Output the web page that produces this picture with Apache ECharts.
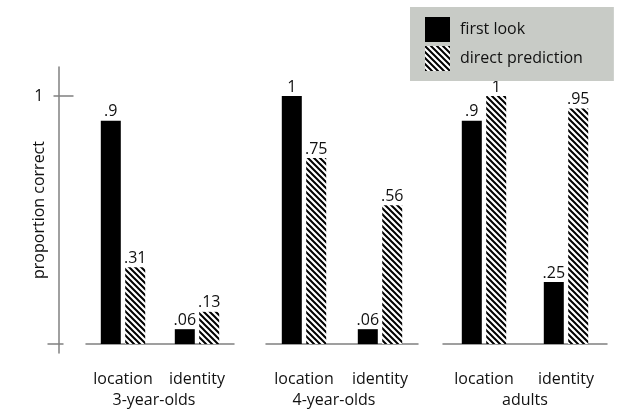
<!DOCTYPE html>
<html>
<head>
<meta charset="utf-8">
<script src="https://cdn.jsdelivr.net/npm/echarts@6/dist/echarts.min.js"></script>
<style>
  html, body { margin: 0; padding: 0; background: #fff; }
  #chart { width: 624px; height: 409px; }
</style>
</head>
<body>
<div id="chart"></div>
<script>
// data
var categories = ['location', 'identity'];
var groups = ['3-year-olds', '4-year-olds', 'adults'];
var firstLook = [[0.9, 0.06], [1, 0.06], [0.9, 0.25]];
var directPrediction = [[0.31, 0.13], [0.75, 0.56], [1, 0.95]];

(function(){
    // 斜线填充
    var hatch = document.createElement('canvas');
    hatch.width = 6;
    hatch.height = 6;
    var ctx = hatch.getContext('2d');
    ctx.fillStyle = '#fff';
    ctx.fillRect(0, 0, 6, 6);
    ctx.strokeStyle = '#000';
    ctx.lineWidth = 2;
    ctx.beginPath();
    ctx.moveTo(-1, -1); ctx.lineTo(7, 7);
    ctx.moveTo(-4, 2); ctx.lineTo(4, 10);
    ctx.moveTo(2, -4); ctx.lineTo(10, 4);
    ctx.stroke();

    var font = '"Open Sans", sans-serif';
    var gray = '#808080';
    var yMin = -0.036, yMax = 1.117;

    var gridPos = [
        { left: 86, width: 148 },
        { left: 266, width: 152 },
        { left: 443, width: 164 }
    ];
    // 组名略向左移
    var namePad = [[0, 12, 0, 0], [0, 16, 0, 0], [0, 0, 0, 0]];

    var grids = [], xAxes = [], yAxes = [], series = [];

    function fmt(p) {
        return String(p.value).replace(/^0\./, '.');
    }

    for (var g = 0; g < groups.length; g++) {
        grids.push({ left: gridPos[g].left, width: gridPos[g].width, top: 67, bottom: 56, outerBoundsMode: 'none' });
        xAxes.push({
            type: 'category',
            gridIndex: g,
            data: categories,
            axisLine: { lineStyle: { color: gray, width: 1.5 } },
            axisTick: { show: false },
            axisLabel: { interval: 0, margin: 18, fontSize: 16, color: '#111', fontFamily: font },
            name: groups[g],
            nameLocation: 'middle',
            nameGap: 39,
            nameMoveOverlap: false,
            nameTextStyle: { fontSize: 16, color: '#111', fontFamily: font, padding: namePad[g] }
        });
        yAxes.push({
            type: 'value',
            gridIndex: g,
            position: 'left',
            min: yMin,
            max: yMax,
            show: g === 0,
            offset: 27.5,
            splitLine: { show: false },
            axisLine: { show: true, lineStyle: { color: gray, width: 1.5 } },
            axisTick: { show: true, length: 5, customValues: [1], lineStyle: { color: gray, width: 1.5 } },
            axisLabel: { customValues: [1], margin: 15, fontSize: 16, color: '#111', fontFamily: font },
            name: g === 0 ? 'proportion correct' : '',
            nameLocation: 'middle',
            nameGap: 11,
            nameMoveOverlap: false,
            nameTextStyle: { fontSize: 16, color: '#111', fontFamily: font }
        });
        series.push({
            name: 'first look',
            type: 'bar',
            xAxisIndex: g,
            yAxisIndex: g,
            barWidth: 20,
            barGap: '22%',
            data: firstLook[g],
            itemStyle: { color: '#000' },
            label: { show: true, position: 'top', distance: 1, fontSize: 16, color: '#111', fontFamily: font, formatter: fmt }
        });
        series.push({
            name: 'direct prediction',
            type: 'bar',
            xAxisIndex: g,
            yAxisIndex: g,
            barWidth: 20,
            barGap: '22%',
            data: directPrediction[g],
            itemStyle: { color: { image: hatch, repeat: 'repeat' } },
            label: { show: true, position: 'top', distance: 1, fontSize: 16, color: '#111', fontFamily: font, formatter: fmt }
        });
    }

    // 额外刻度: 0 处向外, 1 处与 0 处向内
    var extraTicks = [
        { inside: false, length: 11, at: [0] },
        { inside: true, length: 15, at: [1] },
        { inside: true, length: 5, at: [0] }
    ];
    extraTicks.forEach(function(t){
        yAxes.push({
            type: 'value', gridIndex: 0, position: 'left', min: yMin, max: yMax, offset: 27.5,
            splitLine: { show: false }, axisLine: { show: false }, axisLabel: { show: false },
            axisTick: { show: true, inside: t.inside, length: t.length, customValues: t.at, lineStyle: { color: gray, width: 1.5 } }
        });
    });

    var chart = echarts.init(document.getElementById('chart'));
    chart.setOption({
        animation: false,
        legend: {
            data: ['first look', 'direct prediction'],
            orient: 'vertical',
            left: 410,
            top: 7,
            padding: [10, 31, 10, 15],
            backgroundColor: '#c8cbc6',
            itemWidth: 25,
            itemHeight: 25,
            itemGap: 4,
            icon: 'rect',
            textStyle: { fontSize: 16, color: '#111', fontFamily: font, padding: [0, 0, 0, 5] }
        },
        grid: grids,
        xAxis: xAxes,
        yAxis: yAxes,
        series: series
    });
})();
</script>
</body>
</html>
